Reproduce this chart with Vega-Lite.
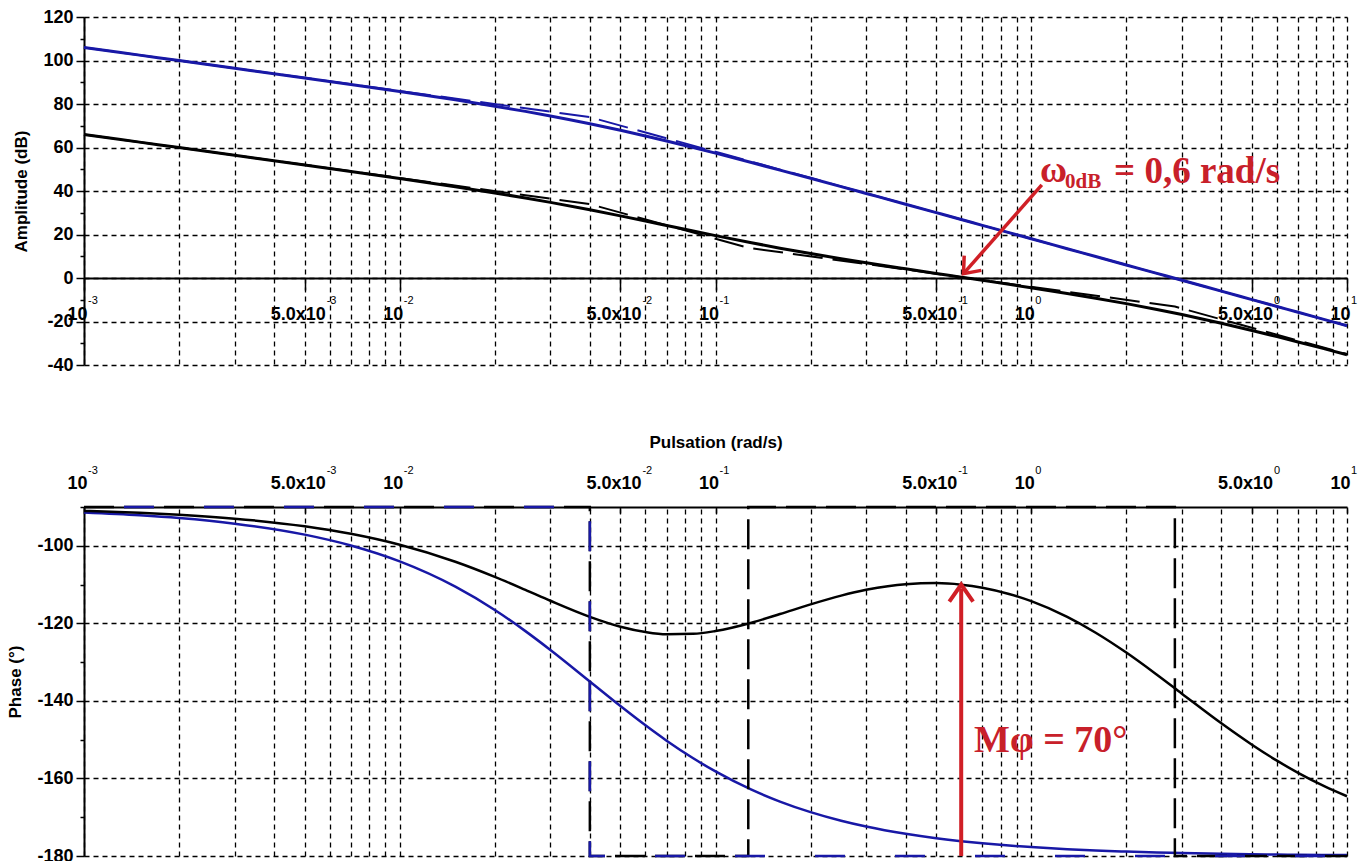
{
  "$schema": "https://vega.github.io/schema/vega-lite/v6.json",
  "padding": {"left": 6, "top": 8, "right": 5, "bottom": 0},
  "background": "white",
  "config": {
    "view": {"stroke": null},
    "axis": {
      "labelFont": "Liberation Sans", "labelFontWeight": "bold", "labelFontSize": 18, "labelColor": "#000",
      "titleFont": "Liberation Sans", "titleFontWeight": "bold", "titleFontSize": 17, "titleColor": "#000",
      "gridColor": "#000", "gridDash": [5, 4], "gridWidth": 1.3, "gridOpacity": 1,
      "domainColor": "#000", "tickColor": "#000", "domainWidth": 2, "tickWidth": 1.5
    }
  },
  "datasets": {
    "curves": [
      {"s": "G", "w": 0.001, "db": 106.00, "deg": -91.43},
      {"s": "G", "w": 0.0015, "db": 102.47, "deg": -92.15},
      {"s": "G", "w": 0.002, "db": 99.97, "deg": -92.86},
      {"s": "G", "w": 0.003, "db": 96.43, "deg": -94.29},
      {"s": "G", "w": 0.005, "db": 91.95, "deg": -97.13},
      {"s": "G", "w": 0.007, "db": 88.97, "deg": -99.93},
      {"s": "G", "w": 0.01, "db": 85.74, "deg": -104.04},
      {"s": "G", "w": 0.015, "db": 81.91, "deg": -110.56},
      {"s": "G", "w": 0.02, "db": 79.01, "deg": -116.57},
      {"s": "G", "w": 0.025, "db": 76.61, "deg": -122.01},
      {"s": "G", "w": 0.03, "db": 74.52, "deg": -126.87},
      {"s": "G", "w": 0.04, "db": 70.95, "deg": -135.00},
      {"s": "G", "w": 0.05, "db": 67.93, "deg": -141.34},
      {"s": "G", "w": 0.06, "db": 65.32, "deg": -146.31},
      {"s": "G", "w": 0.07, "db": 63.01, "deg": -150.26},
      {"s": "G", "w": 0.085, "db": 60.00, "deg": -154.80},
      {"s": "G", "w": 0.1, "db": 57.40, "deg": -158.20},
      {"s": "G", "w": 0.13, "db": 53.09, "deg": -162.90},
      {"s": "G", "w": 0.16, "db": 49.61, "deg": -165.96},
      {"s": "G", "w": 0.2, "db": 45.83, "deg": -168.69},
      {"s": "G", "w": 0.25, "db": 42.02, "deg": -170.91},
      {"s": "G", "w": 0.3, "db": 38.88, "deg": -172.41},
      {"s": "G", "w": 0.4, "db": 33.92, "deg": -174.29},
      {"s": "G", "w": 0.5, "db": 30.06, "deg": -175.43},
      {"s": "G", "w": 0.6, "db": 26.90, "deg": -176.19},
      {"s": "G", "w": 0.7, "db": 24.22, "deg": -176.73},
      {"s": "G", "w": 0.85, "db": 20.86, "deg": -177.31},
      {"s": "G", "w": 1, "db": 18.03, "deg": -177.71},
      {"s": "G", "w": 1.3, "db": 13.48, "deg": -178.24},
      {"s": "G", "w": 1.6, "db": 9.87, "deg": -178.57},
      {"s": "G", "w": 2, "db": 6.00, "deg": -178.85},
      {"s": "G", "w": 2.5, "db": 2.12, "deg": -179.08},
      {"s": "G", "w": 3, "db": -1.04, "deg": -179.24},
      {"s": "G", "w": 4, "db": -6.04, "deg": -179.43},
      {"s": "G", "w": 5, "db": -9.92, "deg": -179.54},
      {"s": "G", "w": 6, "db": -13.09, "deg": -179.62},
      {"s": "G", "w": 7, "db": -15.76, "deg": -179.67},
      {"s": "G", "w": 8.5, "db": -19.14, "deg": -179.73},
      {"s": "G", "w": 10, "db": -21.96, "deg": -179.77},
      {"s": "K", "w": 0.001, "db": 66.00, "deg": -91.00},
      {"s": "K", "w": 0.0015, "db": 62.47, "deg": -91.50},
      {"s": "K", "w": 0.002, "db": 59.97, "deg": -92.00},
      {"s": "K", "w": 0.003, "db": 56.43, "deg": -93.00},
      {"s": "K", "w": 0.005, "db": 51.96, "deg": -94.98},
      {"s": "K", "w": 0.007, "db": 48.98, "deg": -96.92},
      {"s": "K", "w": 0.01, "db": 45.77, "deg": -99.74},
      {"s": "K", "w": 0.015, "db": 41.97, "deg": -104.12},
      {"s": "K", "w": 0.02, "db": 39.12, "deg": -108.02},
      {"s": "K", "w": 0.025, "db": 36.78, "deg": -111.37},
      {"s": "K", "w": 0.03, "db": 34.76, "deg": -114.18},
      {"s": "K", "w": 0.04, "db": 31.36, "deg": -118.32},
      {"s": "K", "w": 0.05, "db": 28.56, "deg": -120.86},
      {"s": "K", "w": 0.06, "db": 26.19, "deg": -122.23},
      {"s": "K", "w": 0.07, "db": 24.16, "deg": -122.81},
      {"s": "K", "w": 0.085, "db": 21.60, "deg": -122.71},
      {"s": "K", "w": 0.1, "db": 19.49, "deg": -121.99},
      {"s": "K", "w": 0.13, "db": 16.19, "deg": -119.84},
      {"s": "K", "w": 0.16, "db": 13.72, "deg": -117.61},
      {"s": "K", "w": 0.2, "db": 11.23, "deg": -115.11},
      {"s": "K", "w": 0.25, "db": 8.87, "deg": -112.85},
      {"s": "K", "w": 0.3, "db": 7.01, "deg": -111.36},
      {"s": "K", "w": 0.4, "db": 4.22, "deg": -109.89},
      {"s": "K", "w": 0.5, "db": 2.10, "deg": -109.63},
      {"s": "K", "w": 0.6, "db": 0.39, "deg": -110.03},
      {"s": "K", "w": 0.7, "db": -1.07, "deg": -110.81},
      {"s": "K", "w": 0.85, "db": -2.90, "deg": -112.42},
      {"s": "K", "w": 1, "db": -4.48, "deg": -114.28},
      {"s": "K", "w": 1.3, "db": -7.10, "deg": -118.34},
      {"s": "K", "w": 1.6, "db": -9.29, "deg": -122.42},
      {"s": "K", "w": 2, "db": -11.78, "deg": -127.54},
      {"s": "K", "w": 2.5, "db": -14.46, "deg": -133.25},
      {"s": "K", "w": 3, "db": -16.81, "deg": -138.13},
      {"s": "K", "w": 4, "db": -20.80, "deg": -145.78},
      {"s": "K", "w": 5, "db": -24.12, "deg": -151.30},
      {"s": "K", "w": 6, "db": -26.95, "deg": -155.42},
      {"s": "K", "w": 7, "db": -29.40, "deg": -158.55},
      {"s": "K", "w": 8.5, "db": -32.58, "deg": -162.05},
      {"s": "K", "w": 10, "db": -35.28, "deg": -164.59}
    ],
    "asymMag": [
      {"s": "G", "i": 1, "w": 0.001, "db": 106.0},
      {"s": "G", "i": 2, "w": 0.04, "db": 73.96},
      {"s": "G", "i": 3, "w": 10, "db": -21.96},
      {"s": "K", "i": 1, "w": 0.001, "db": 66.0},
      {"s": "K", "i": 2, "w": 0.04, "db": 33.96},
      {"s": "K", "i": 3, "w": 0.127, "db": 13.89},
      {"s": "K", "i": 4, "w": 2.85, "db": -13.13},
      {"s": "K", "i": 5, "w": 10, "db": -34.94}
    ],
    "asymPh": [
      {"s": "G", "i": 1, "w": 0.001, "deg": -90},
      {"s": "G", "i": 2, "w": 0.04, "deg": -90},
      {"s": "G", "i": 3, "w": 0.04, "deg": -180},
      {"s": "G", "i": 4, "w": 10, "deg": -180},
      {"s": "K", "i": 1, "w": 0.001, "deg": -90},
      {"s": "K", "i": 2, "w": 0.04, "deg": -90},
      {"s": "K", "i": 3, "w": 0.04, "deg": -180},
      {"s": "K", "i": 4, "w": 0.127, "deg": -180},
      {"s": "K", "i": 5, "w": 0.127, "deg": -90},
      {"s": "K", "i": 6, "w": 2.85, "deg": -90},
      {"s": "K", "i": 7, "w": 2.85, "deg": -180},
      {"s": "K", "i": 8, "w": 10, "deg": -180}
    ],
    "exps": [
      {"k": "d", "w": 0.001, "e": "-3", "db": -11.95, "deg": -81.5},
      {"k": "f", "w": 0.005, "e": "-3", "db": -11.95, "deg": -81.5},
      {"k": "d", "w": 0.01, "e": "-2", "db": -11.95, "deg": -81.5},
      {"k": "f", "w": 0.05, "e": "-2", "db": -11.95, "deg": -81.5},
      {"k": "d", "w": 0.1, "e": "-1", "db": -11.95, "deg": -81.5},
      {"k": "f", "w": 0.5, "e": "-1", "db": -11.95, "deg": -81.5},
      {"k": "d", "w": 1, "e": "0", "db": -11.95, "deg": -81.5},
      {"k": "f", "w": 5, "e": "0", "db": -11.95, "deg": -81.5},
      {"k": "d", "w": 10, "e": "1", "db": -11.95, "deg": -81.5}
    ],
    "textTop": [
      {"k": "big", "w": 1.066, "db": 44.1, "t": "ω"},
      {"k": "sub", "w": 1.279, "db": 41.6, "t": "0dB"},
      {"k": "big", "w": 1.829, "db": 43.7, "t": "= 0,6 rad/s"}
    ],
    "shaftTop": [{"w": 1.08, "db": 42.8, "w2": 0.615, "db2": 2.6}],
    "headTop": [{"w": 0.61, "db": 2.0}],
    "textBot": [{"w": 0.659, "deg": -153.2, "t": "Mφ = 70°"}],
    "shaftBot": [{"w": 0.6, "deg": -180, "w2": 0.6, "deg2": -111}],
    "headBot": [{"w": 0.6, "deg": -110.0}]
  },
  "bounds": "flush",
  "spacing": 142,
  "vconcat": [
    {
      "width": 1263,
      "height": 348,
      "encoding": {
        "x": {
          "field": "w", "type": "quantitative",
          "scale": {"type": "log", "domain": [0.001, 10], "nice": false},
          "axis": {
            "orient": "bottom", "offset": -87, "title": null,
            "values": [0.001,0.002,0.003,0.004,0.005,0.006,0.007,0.008,0.009,0.01,0.02,0.03,0.04,0.05,0.06,0.07,0.08,0.09,0.1,0.2,0.3,0.4,0.5,0.6,0.7,0.8,0.9,1,2,3,4,5,6,7,8,9,10],
            "labelExpr": "(datum.value==0.001||datum.value==0.01||datum.value==0.1||datum.value==1||datum.value==10)?'10':(datum.value==0.005||datum.value==0.05||datum.value==0.5||datum.value==5)?'5.0x10':''",
            "tickSize": {"condition": {"test": "datum.value==0.001||datum.value==0.005||datum.value==0.01||datum.value==0.05||datum.value==0.1||datum.value==0.5||datum.value==1||datum.value==5||datum.value==10", "value": 12}, "value": 0},
            "labelPadding": 15, "labelOffset": -7, "labelOverlap": false, "labelFlush": false, "grid": true
          }
        },
        "y": {
          "field": "db", "type": "quantitative",
          "scale": {"domain": [-40, 120], "nice": false, "zero": false},
          "axis": {
            "title": "Amplitude (dB)", "titlePadding": 12,
            "values": [-40,-30,-20,-10,0,10,20,30,40,50,60,70,80,90,100,110,120],
            "labelExpr": "datum.value % 20 === 0 ? '' + datum.value : ''",
            "gridOpacity": {"condition": {"test": "datum.value % 20 !== 0", "value": 0}, "value": 1},
            "tickSize": {"condition": {"test": "datum.value % 20 === 0", "value": 8}, "value": 4},
            "labelPadding": 3, "labelOverlap": false, "grid": true
          }
        }
      },
      "layer": [
        {
          "data": {"name": "asymMag"},
          "transform": [{"filter": "datum.s === 'K'"}],
          "mark": {"type": "line", "color": "#000000", "strokeWidth": 2, "strokeDash": [30, 10]},
          "encoding": {"order": {"field": "i", "type": "quantitative"}}
        },
        {
          "data": {"name": "asymMag"},
          "transform": [{"filter": "datum.s === 'G'"}],
          "mark": {"type": "line", "color": "#1818a6", "strokeWidth": 2, "strokeDash": [30, 10]},
          "encoding": {"order": {"field": "i", "type": "quantitative"}}
        },
        {
          "data": {"name": "curves"},
          "mark": {"type": "line", "strokeWidth": 3, "interpolate": "monotone"},
          "encoding": {
            "color": {"field": "s", "type": "nominal", "scale": {"domain": ["G", "K"], "range": ["#1818a6", "#000000"]}, "legend": null}
          }
        },
        {
          "data": {"name": "exps"},
          "transform": [{"filter": "datum.k === 'd'"}],
          "mark": {"type": "text", "font": "Liberation Sans", "fontSize": 11, "color": "#000", "align": "left", "baseline": "alphabetic", "dx": 4},
          "encoding": {"text": {"field": "e"}}
        },
        {
          "data": {"name": "exps"},
          "transform": [{"filter": "datum.k === 'f'"}],
          "mark": {"type": "text", "font": "Liberation Sans", "fontSize": 11, "color": "#000", "align": "left", "baseline": "alphabetic", "dx": 22},
          "encoding": {"text": {"field": "e"}}
        },
        {
          "data": {"name": "shaftTop"},
          "mark": {"type": "rule", "color": "#d01f26", "strokeWidth": 3.5},
          "encoding": {"x2": {"field": "w2"}, "y2": {"field": "db2"}}
        },
        {
          "data": {"name": "headTop"},
          "mark": {"type": "point", "shape": "M -0.8 1 L 0 0 L 0.8 1", "filled": false, "stroke": "#d01f26", "strokeWidth": 3.5, "size": 800, "angle": 221, "opacity": 1}
        },
        {
          "data": {"name": "textTop"},
          "transform": [{"filter": "datum.k === 'big'"}],
          "mark": {"type": "text", "font": "Liberation Serif", "fontWeight": "bold", "fontSize": 37, "color": "#c8202a", "align": "left", "baseline": "alphabetic"},
          "encoding": {"text": {"field": "t"}}
        },
        {
          "data": {"name": "textTop"},
          "transform": [{"filter": "datum.k === 'sub'"}],
          "mark": {"type": "text", "font": "Liberation Serif", "fontWeight": "bold", "fontSize": 21, "color": "#c8202a", "align": "left", "baseline": "alphabetic"},
          "encoding": {"text": {"field": "t"}}
        }
      ]
    },
    {
      "width": 1263,
      "height": 349,
      "encoding": {
        "x": {
          "field": "w", "type": "quantitative",
          "scale": {"type": "log", "domain": [0.001, 10], "nice": false},
          "axis": {
            "orient": "top", "title": "Pulsation (rad/s)", "titlePadding": 17,
            "values": [0.001,0.002,0.003,0.004,0.005,0.006,0.007,0.008,0.009,0.01,0.02,0.03,0.04,0.05,0.06,0.07,0.08,0.09,0.1,0.2,0.3,0.4,0.5,0.6,0.7,0.8,0.9,1,2,3,4,5,6,7,8,9,10],
            "labelExpr": "(datum.value==0.001||datum.value==0.01||datum.value==0.1||datum.value==1||datum.value==10)?'10':(datum.value==0.005||datum.value==0.05||datum.value==0.5||datum.value==5)?'5.0x10':''",
            "tickSize": {"condition": {"test": "datum.value==0.001||datum.value==0.005||datum.value==0.01||datum.value==0.05||datum.value==0.1||datum.value==0.5||datum.value==1||datum.value==5||datum.value==10", "value": -6}, "value": 0},
            "labelPadding": 21, "labelOffset": -7, "labelOverlap": false, "labelFlush": false, "grid": true
          }
        },
        "y": {
          "field": "deg", "type": "quantitative",
          "scale": {"domain": [-180, -90], "nice": false, "zero": false},
          "axis": {
            "title": "Phase (°)", "titlePadding": 12,
            "values": [-180,-170,-160,-150,-140,-130,-120,-110,-100,-90],
            "labelExpr": "datum.value % 20 === 0 ? '' + datum.value : ''",
            "gridOpacity": {"condition": {"test": "datum.value % 20 !== 0", "value": 0}, "value": 1},
            "tickSize": {"condition": {"test": "datum.value % 20 === 0", "value": 8}, "value": 4},
            "labelPadding": 3, "labelOverlap": false, "grid": true
          }
        }
      },
      "layer": [
        {
          "data": {"name": "curves"},
          "mark": {"type": "line", "strokeWidth": 2.5, "interpolate": "monotone"},
          "encoding": {
            "color": {"field": "s", "type": "nominal", "scale": {"domain": ["G", "K"], "range": ["#1818a6", "#000000"]}, "legend": null}
          }
        },
        {
          "data": {"name": "asymPh"},
          "transform": [{"filter": "datum.s === 'K'"}],
          "mark": {"type": "line", "color": "#000000", "strokeWidth": 2.5, "strokeDash": [30, 10]},
          "encoding": {"order": {"field": "i", "type": "quantitative"}}
        },
        {
          "data": {"name": "asymPh"},
          "transform": [{"filter": "datum.s === 'G'"}],
          "mark": {"type": "line", "color": "#1818a6", "strokeWidth": 2.5, "strokeDash": [30, 50], "strokeDashOffset": 40},
          "encoding": {"order": {"field": "i", "type": "quantitative"}}
        },
        {
          "data": {"name": "exps"},
          "transform": [{"filter": "datum.k === 'd'"}],
          "mark": {"type": "text", "font": "Liberation Sans", "fontSize": 11, "color": "#000", "align": "left", "baseline": "alphabetic", "dx": 4},
          "encoding": {"text": {"field": "e"}}
        },
        {
          "data": {"name": "exps"},
          "transform": [{"filter": "datum.k === 'f'"}],
          "mark": {"type": "text", "font": "Liberation Sans", "fontSize": 11, "color": "#000", "align": "left", "baseline": "alphabetic", "dx": 22},
          "encoding": {"text": {"field": "e"}}
        },
        {
          "data": {"name": "shaftBot"},
          "mark": {"type": "rule", "color": "#d01f26", "strokeWidth": 4},
          "encoding": {"x2": {"field": "w2"}, "y2": {"field": "deg2"}}
        },
        {
          "data": {"name": "headBot"},
          "mark": {"type": "point", "shape": "M -0.7 1 L 0 0 L 0.7 1", "filled": false, "stroke": "#d01f26", "strokeWidth": 4, "size": 1156, "angle": 0, "opacity": 1}
        },
        {
          "data": {"name": "textBot"},
          "mark": {"type": "text", "font": "Liberation Serif", "fontWeight": "bold", "fontSize": 38, "color": "#c8202a", "align": "left", "baseline": "alphabetic"},
          "encoding": {"text": {"field": "t"}}
        }
      ]
    }
  ]
}
